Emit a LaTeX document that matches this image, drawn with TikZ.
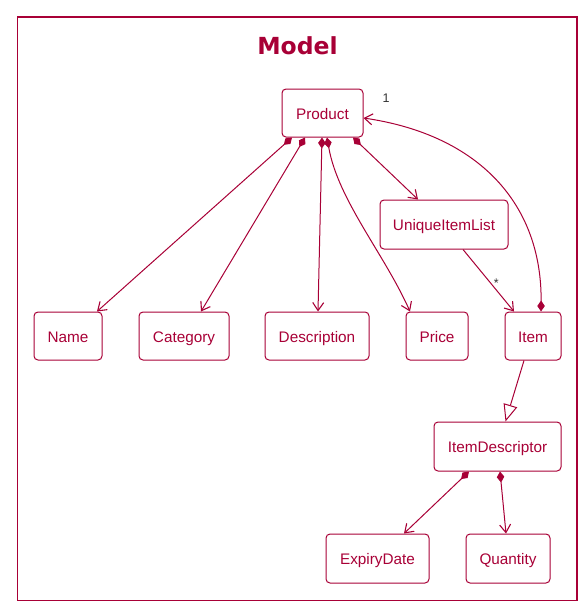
\documentclass[tikz,border=0pt]{standalone}
\usepackage{fontspec}
\setmainfont{Liberation Sans}
\newfontfamily\titlefont{DejaVu Sans}
\usetikzlibrary{arrows.meta}
\definecolor{umlred}{RGB}{168,0,54}
\begin{document}
\begin{tikzpicture}[x=1pt,y=-1pt,
  cls/.style={draw=umlred,line width=1pt,rounded corners=4pt,text=umlred,
    font=\fontsize{15.3}{18}\selectfont,inner sep=0pt,minimum height=48pt,
    text height=12.5pt,text depth=0.5pt},
  comp/.style={draw=umlred,line width=1pt,
    {Diamond[length=11pt,width=7.5pt]}-{Straight Barb[length=8pt,width=11pt,line width=1.1pt]}},
  assoc/.style={draw=umlred,line width=1pt,
    -{Straight Barb[length=8pt,width=11pt,line width=1.1pt]}},
  inh/.style={draw=umlred,line width=1pt,
    -{Triangle[open,length=17pt,width=14pt,fill=white]}},
  mult/.style={font=\fontsize{12.5}{14}\selectfont,text=black!80}
]
\useasboundingbox (0,0) rectangle (588,610);
\draw[umlred,line width=1.4pt] (17.3,17) rectangle (577,600.5);
\node[text=umlred,font=\titlefont\bfseries\fontsize{23.5}{27}\selectfont] (title) at (297.5,46) {Model};

\node[cls,minimum width=81pt] (product) at (322.5,113) {Product};
\node[cls,minimum width=128pt,minimum height=49pt] (uil) at (444,224.5) {UniqueItemList};
\node[cls,minimum width=68pt] (name) at (68,336) {Name};
\node[cls,minimum width=90pt] (category) at (184,336) {Category};
\node[cls,minimum width=104pt] (description) at (317,336) {Description};
\node[cls,minimum width=62pt] (price) at (437,336) {Price};
\node[cls,minimum width=56pt] (item) at (533,336) {Item};
\node[cls,minimum width=127pt,minimum height=49pt] (itemdesc) at (497.5,446.5) {ItemDescriptor};
\node[cls,minimum width=103pt,minimum height=49pt] (expiry) at (377.5,558.5) {ExpiryDate};
\node[cls,minimum width=84pt,minimum height=49pt] (quantity) at (508,558.5) {Quantity};

\draw[comp] ([xshift=-30.5pt]product.south) -- ([xshift=29pt]name.north);
\draw[comp] ([xshift=-17.5pt]product.south) -- ([xshift=17pt]category.north);
\draw[comp] ([xshift=-0.5pt]product.south) -- ([xshift=1pt]description.north);
\draw[comp] ([xshift=4.5pt]product.south) .. controls (338,200) and (385,255) .. ([xshift=-27pt]price.north);
\draw[comp] ([xshift=30.5pt]product.south) -- ([xshift=-26pt]uil.north);
\draw[assoc] ([xshift=19pt]uil.south) -- node[mult,pos=0.55,right=-1pt] {*} ([xshift=-19pt]item.north);
\draw[comp] ([xshift=8pt]item.north) .. controls (542,205) and (480,135) .. ([yshift=-5pt]product.east);
\node[mult] (one) at (386,98) {1};
\draw[inh] ([xshift=-9pt]item.south) -- ([xshift=8pt]itemdesc.north);
\draw[comp] ([xshift=-28.5pt]itemdesc.south) -- ([xshift=26.5pt]expiry.north);
\draw[comp] ([xshift=2.5pt]itemdesc.south) -- ([xshift=-2pt]quantity.north);
\end{tikzpicture}
\end{document}
